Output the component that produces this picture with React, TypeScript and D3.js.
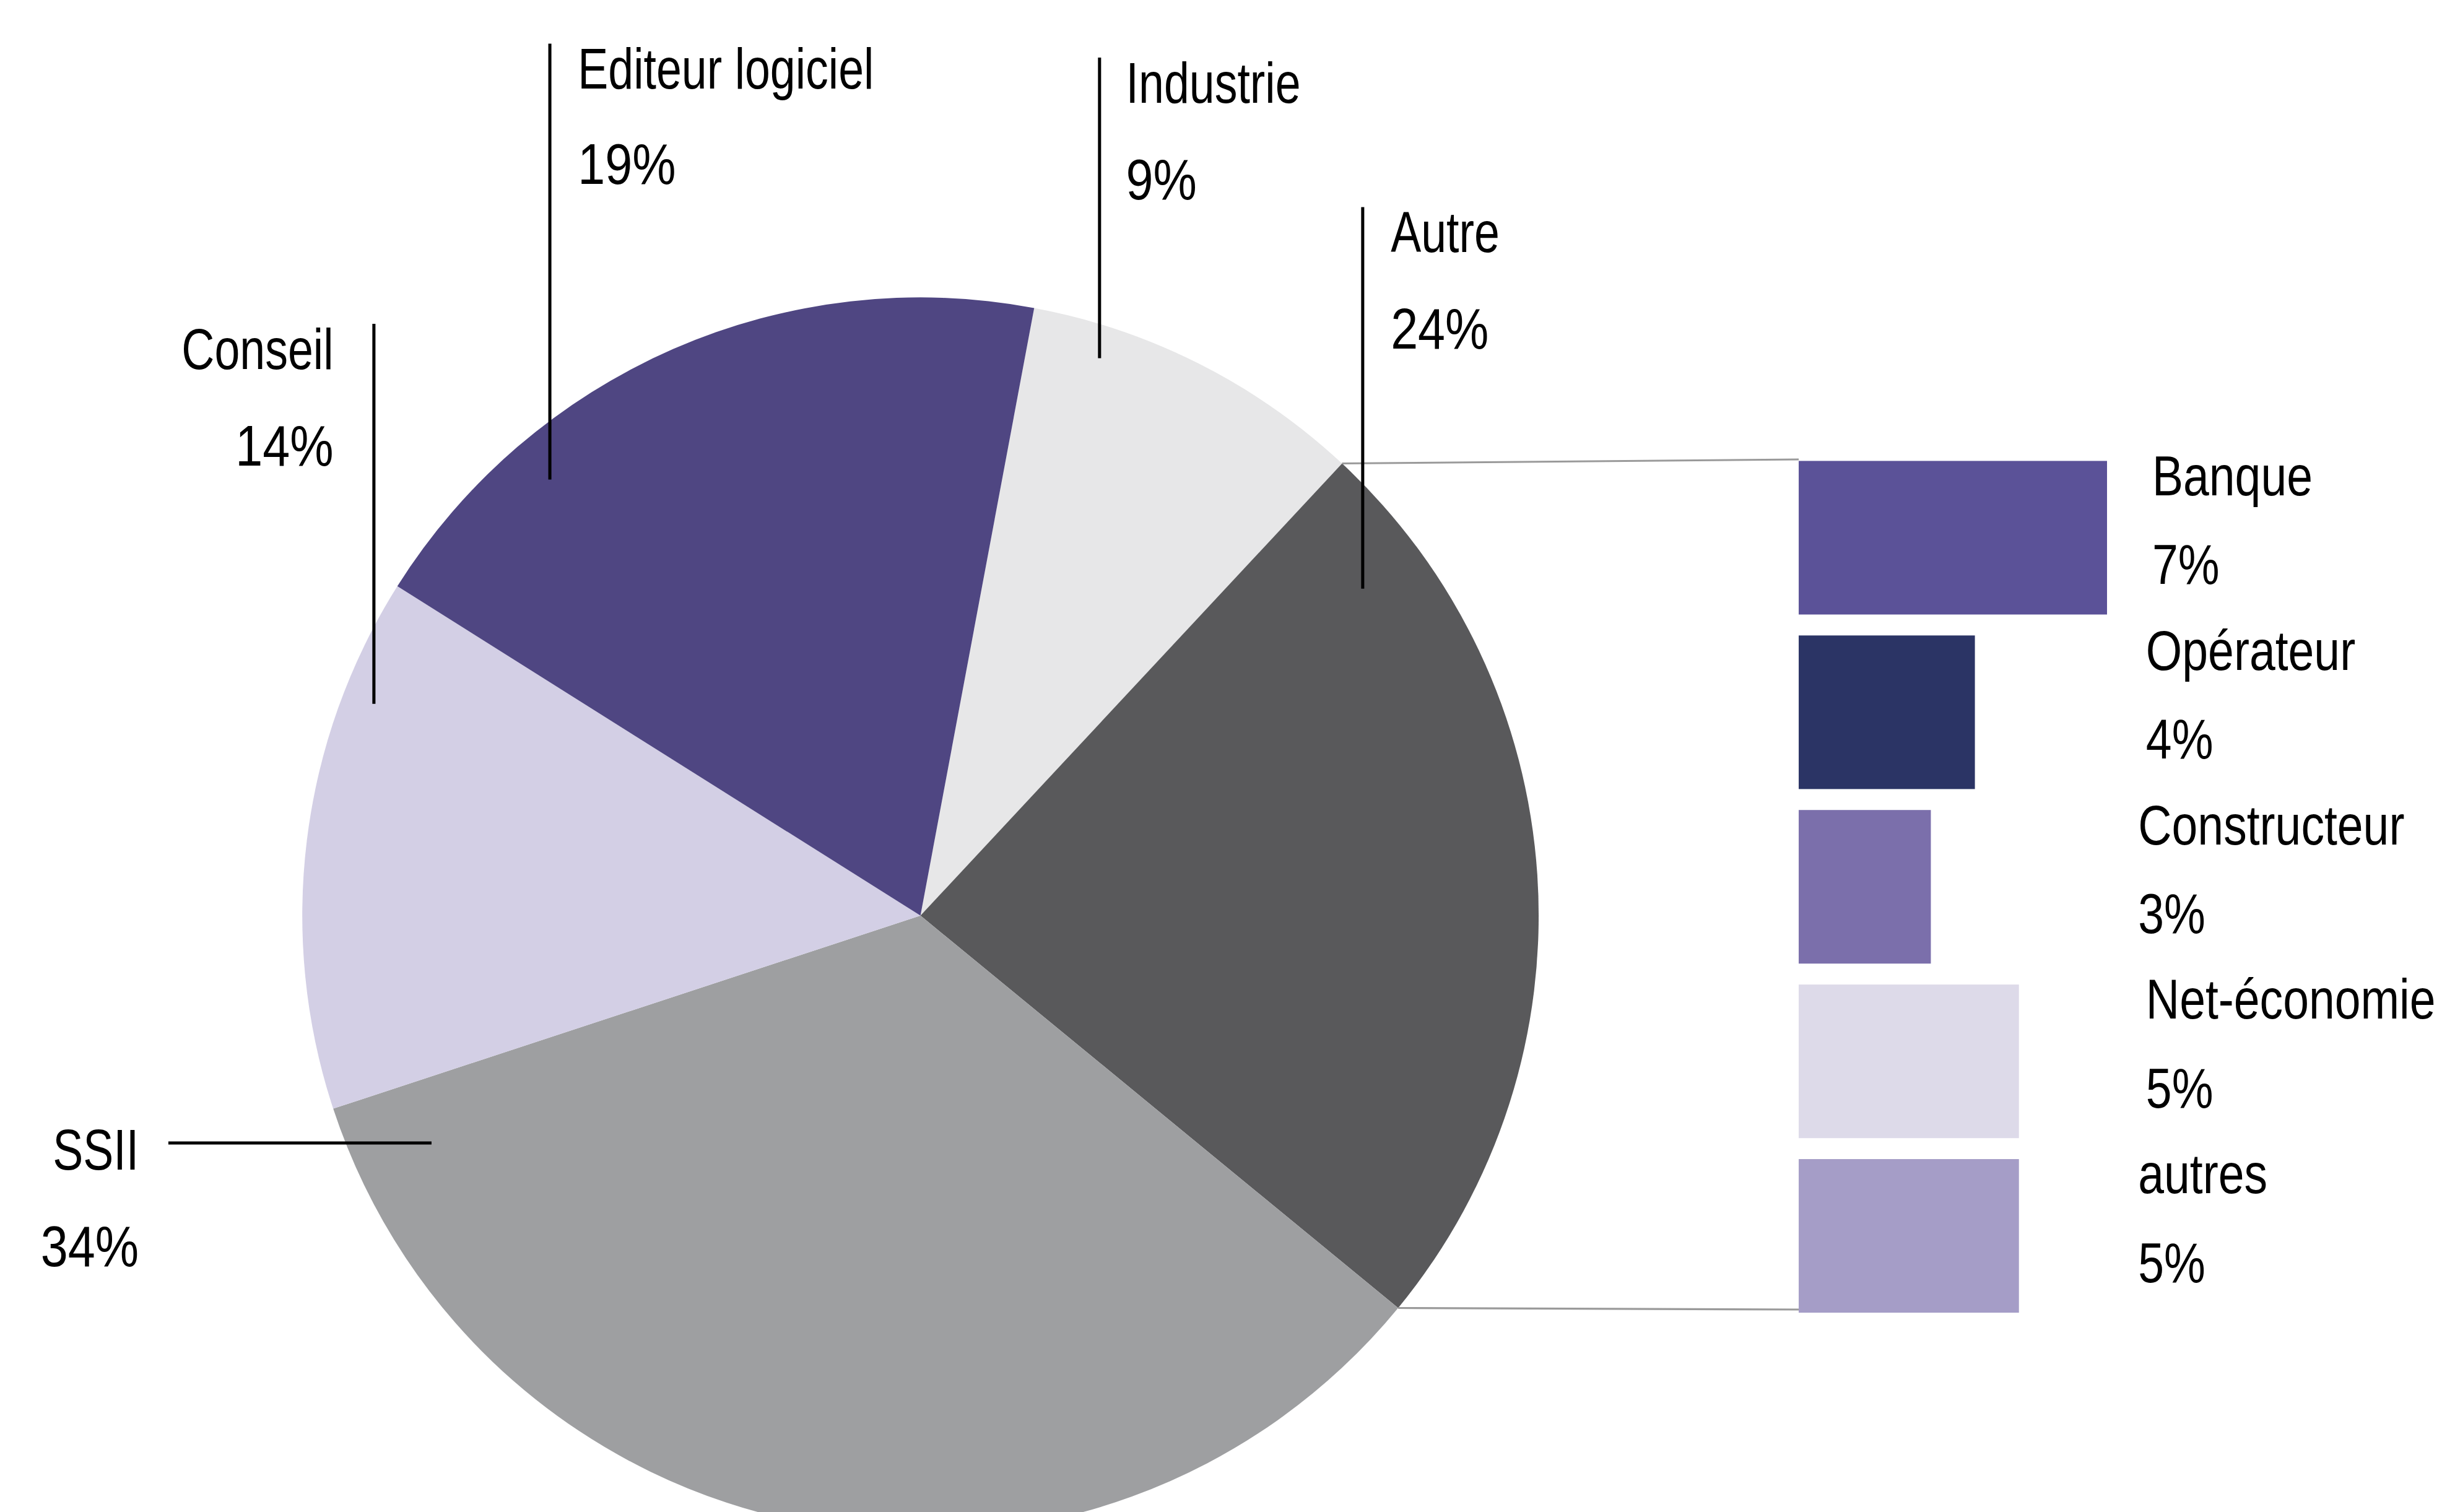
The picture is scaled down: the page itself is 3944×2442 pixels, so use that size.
import * as d3 from 'd3';

// main pie
const mainCategories = ['Industrie', 'Autre', 'SSII', 'Conseil', 'Editeur logiciel'];
const mainValues = [9, 24, 34, 14, 19];
const mainColors = ['#e7e7e8', '#59595b', '#9e9fa1', '#d3cfe5', '#4f4682'];

// breakdown of "Autre"
const subCategories = ['Banque', 'Opérateur', 'Constructeur', 'Net-économie', 'autres'];
const subValues = [7, 4, 3, 5, 5];
const subColors = ['#5b5298', '#2b3465', '#7b6fab', '#dddae9', '#a59dc7'];

const W = 1568;
const H = 971;
const CX = 591;
const CY = 588;
const R = 397;
const START = (10.6 * Math.PI) / 180;

// label placement for the main pie (leader line + text)
const mainLabelLayout = [
  { line: [706, 37, 706, 230], x: 723, anchor: 'start', y1: 66, y2: 128 },
  { line: [875, 133, 875, 378], x: 893, anchor: 'start', y1: 162, y2: 224 },
  { line: [108, 734, 277, 734], x: 89, anchor: 'end', y1: 751, y2: 813 },
  { line: [240, 208, 240, 452], x: 214, anchor: 'end', y1: 237, y2: 299 },
  { line: [353, 28, 353, 308], x: 371, anchor: 'start', y1: 57, y2: 118 },
];

const FONT = "'Liberation Sans', Arial, sans-serif";

const Label = ({ x, y, text, anchor, sx, size }: { x: number; y: number; text: string; anchor: string; sx: number; size: number }) => (
  <g transform={`translate(${x},${y}) scale(${sx},1)`}>
    <text x={0} y={0} textAnchor={anchor as any} fontFamily={FONT} fontSize={size} fill="#000">
      {text}
    </text>
  </g>
);

export default function App() {
  const pie = d3
    .pie<number>()
    .sort(null)
    .value((d) => d)
    .startAngle(START)
    .endAngle(START + 2 * Math.PI);
  const arcs = pie(mainValues);
  const arc = d3.arc<d3.PieArcDatum<number>>().innerRadius(0).outerRadius(R);

  const x = d3.scaleLinear().domain([0, 7]).range([1155, 1353]);
  const y = d3.scaleBand<string>().domain(subCategories).range([296, 843]).paddingInner(0.12).paddingOuter(0);

  const autre = arcs[1];
  const p1 = [CX + R * Math.sin(autre.startAngle), CY - R * Math.cos(autre.startAngle)];
  const p2 = [CX + R * Math.sin(autre.endAngle), CY - R * Math.cos(autre.endAngle)];
  const barTop = y(subCategories[0]) ?? 0;
  const barBottom = (y(subCategories[subCategories.length - 1]) ?? 0) + y.bandwidth();

  return (
    <div style={{ position: 'absolute', left: 0, top: 0, background: '#fff' }}>
      <svg width={3944} height={2442} viewBox={`0 0 ${W} ${H}`} style={{ display: 'block' }}>
        <rect x={0} y={0} width={W} height={H} fill="#fff" />
        <g transform={`translate(${CX},${CY})`}>
          {arcs.map((a, i) => (
            <path key={mainCategories[i]} d={arc(a) ?? ''} fill={mainColors[i]} />
          ))}
        </g>

        {/* connector lines to the bar stack */}
        <line x1={p1[0]} y1={p1[1]} x2={x(0)} y2={barTop - 1} stroke="#9a9a9a" strokeWidth={1.2} />
        <line x1={p2[0]} y1={p2[1]} x2={x(0)} y2={barBottom - 2} stroke="#9a9a9a" strokeWidth={1.2} />

        {subCategories.map((c, i) => (
          <rect
            key={c}
            x={x(0)}
            y={y(c)}
            width={x(subValues[i]) - x(0)}
            height={y.bandwidth()}
            fill={subColors[i]}
          />
        ))}

        {subCategories.map((c, i) => {
          const top = y(c) ?? 0;
          const lx = [1382, 1378, 1373, 1378, 1373][i];
          return (
            <g key={c}>
              <Label x={lx} y={top + 22} text={c} anchor="start" sx={0.83} size={36} />
              <Label x={lx} y={top + 79} text={`${subValues[i]}%`} anchor="start" sx={0.83} size={36} />
            </g>
          );
        })}

        {mainCategories.map((c, i) => {
          const l = mainLabelLayout[i];
          return (
            <g key={c}>
              <line x1={l.line[0]} y1={l.line[1]} x2={l.line[2]} y2={l.line[3]} stroke="#000" strokeWidth={2} />
              <Label x={l.x} y={l.y1} text={c} anchor={l.anchor} sx={0.79} size={37} />
              <Label x={l.x} y={l.y2} text={`${mainValues[i]}%`} anchor={l.anchor} sx={0.85} size={37} />
            </g>
          );
        })}
      </svg>
    </div>
  );
}
